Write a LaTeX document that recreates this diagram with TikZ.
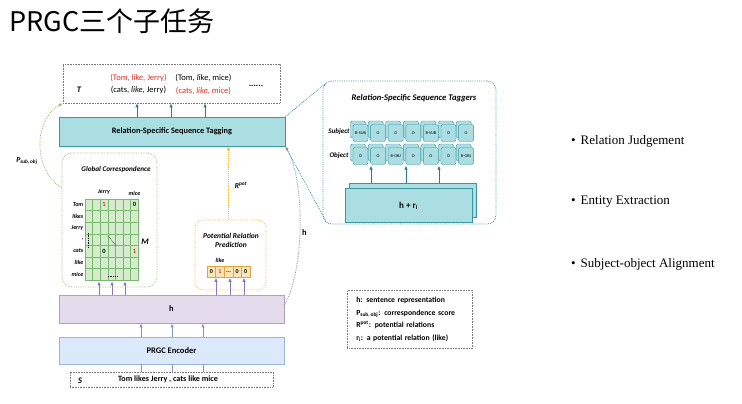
\documentclass[tikz,border=0pt]{standalone}
\usepackage{fontspec}
\setmainfont{Liberation Serif}
\newfontfamily\cjkfont{Noto Sans CJK SC}
\newfontfamily\dfont{Carlito}
\usetikzlibrary{arrows.meta,calc}
\definecolor{tealfill}{RGB}{170,222,226}
\definecolor{tealline}{RGB}{60,150,158}
\definecolor{tealarr}{RGB}{40,125,135}
\definecolor{gridfill}{RGB}{212,236,205}
\definecolor{gridln}{RGB}{120,185,110}
\definecolor{greendot}{RGB}{150,190,110}
\definecolor{orangedot}{RGB}{235,185,60}
\definecolor{vecfill}{RGB}{252,228,185}
\definecolor{vecline}{RGB}{225,165,60}
\definecolor{hfill}{RGB}{228,220,236}
\definecolor{hline}{RGB}{175,160,195}
\definecolor{purparr}{RGB}{140,120,180}
\definecolor{encfill}{RGB}{220,233,250}
\definecolor{encline}{RGB}{150,180,225}
\definecolor{bluearr}{RGB}{125,150,190}
\definecolor{redtxt}{RGB}{225,45,30}
\definecolor{dotgray}{RGB}{120,120,120}
\newcommand{\fs}[1]{\fontsize{#1}{#1}\selectfont}
\newcommand{\tdots}{..\kern-0.1pt.}
\tikzset{
  bar/.style={draw, inner sep=0, line width=0.6pt},
  dotbox/.style={draw=dotgray, densely dotted, line width=0.6pt, inner sep=0},
  tarrow/.style={draw=tealarr, line width=0.8pt, -{Latex[length=4pt,width=3.5pt]}},
  parrow/.style={draw=purparr, line width=0.8pt, -{Latex[length=4pt,width=3.5pt]}},
  barrow/.style={draw=bluearr, line width=0.8pt, -{Latex[length=4pt,width=3.5pt]}},
  card/.style={draw=tealline, fill=tealfill, rounded corners=1.5pt, minimum width=15, minimum height=17, inner sep=0, font=\dfont\fs{4.3}, line width=0.4pt},
  lbl/.style={inner sep=0, font=\dfont\fs{8.5}},
  gl/.style={draw=gridln, line width=0.4pt},
}
\begin{document}
\begin{tikzpicture}[x=1pt,y=-1pt]
\useasboundingbox (0,0) rectangle (742,404);
% title
\node[anchor=west, inner sep=0, font=\cjkfont\fs{27}] (title) at (9,21) {PRGC三个子任务};

% T box
\node[dotbox, minimum width=217, minimum height=39] (tbox) at (171.5,83.5) {};
\node[lbl, font=\dfont\itshape\bfseries\fs{8.5}] (tlab) at (79,90) {T};
\node[lbl, text=redtxt] (t1) at (138.5,78) {(Tom, \textit{like}, Jerry)};
\node[lbl] (t2) at (203.5,78) {(Tom, \textit{like}, mice)};
\node[lbl] (t3) at (138.5,90.5) {(cats, \textit{like}, Jerry)};
\node[lbl, text=redtxt] (t4) at (203.5,90.5) {(cats, \textit{like}, mice)};
\node[lbl, font=\dfont\bfseries\fs{9}] (tdotsn) at (256,86) {......};

% Tagging bar
\node[bar, draw=tealline, fill=tealfill, minimum width=226, minimum height=29, font=\dfont\bfseries\fs{8.3}] (tag) at (172,131.5) {Relation-Specific Sequence Tagging};
\foreach \dx in {-35,-1,33}
  \draw[tarrow] ([xshift=\dx pt]tag.north) -- ([xshift=\dx pt]tag.north |- tbox.south);

% Global correspondence
\node[draw=greendot, densely dotted, line width=0.7pt, rounded corners=10pt, minimum width=95, minimum height=134, inner sep=0] (glob) at (109.5,220) {};
\node[lbl, font=\dfont\bfseries\itshape\fs{7.2}] (globt) at (116,169.5) {Global Correspondence};
\node[draw=gridln, fill=gridfill, minimum width=53, minimum height=81, inner sep=0, line width=0.5pt] (grid) at (111.5,239.5) {};
\foreach \i in {1,...,6} {
  \draw[gl] ({85+\i*7.5714},199) -- ({85+\i*7.5714},280);
  \draw[gl] (85,{199+\i*11.571}) -- (138,{199+\i*11.571});
}
\foreach \w [count=\i] in {Tom,likes,Jerry,{,},cats,like,mice}
  \node[anchor=east, inner sep=0, font=\dfont\itshape\bfseries\fs{6}] at (83.5,{199+(\i-0.5)*11.571}) {\w};
\node[lbl, font=\dfont\itshape\bfseries\fs{6}] (cj) at (104,192) {Jerry};
\node[lbl, font=\dfont\itshape\bfseries\fs{6}] (cm) at (134.5,193.5) {mice};
\node[lbl, font=\dfont\bfseries\fs{6.5}, text=redtxt] (g1) at (104,204.8) {1};
\node[lbl, font=\dfont\bfseries\fs{6.5}] (g2) at (134.4,204.8) {0};
\node[lbl, font=\dfont\bfseries\fs{6.5}] (g3) at (104,251.2) {0};
\node[lbl, font=\dfont\bfseries\fs{6.5}, text=redtxt] (g4) at (134.4,251.2) {1};
\draw[densely dotted, line width=0.7pt] (88.8,233) -- (88.8,248);
\draw[densely dotted, line width=0.6pt] (108,236) -- (116,246);
\draw[densely dotted, line width=0.7pt] (108,276) -- (117,276);
\node[lbl, font=\dfont\bfseries\itshape\fs{8.5}] (mlab) at (145,242) {M};

% Potential relation prediction
\node[draw=orangedot, densely dotted, line width=0.7pt, rounded corners=8pt, minimum width=71, minimum height=70, inner sep=0] (prp) at (230.5,255) {};
\node[lbl, align=center, font=\dfont\bfseries\itshape\fs{7.5}] (prpt) at (231,240.5) {Potential Relation\\[1pt]Prediction};
\node[draw=vecline, fill=vecfill, minimum width=43, minimum height=11, inner sep=0, line width=0.5pt] (vec) at (228.5,272) {};
\foreach \i in {1,...,4}
  \draw[draw=vecline, line width=0.5pt] ({207+\i*8.6},266.5) -- ({207+\i*8.6},277.5);
\foreach \v/\c [count=\i] in {0/black,1/redtxt,\tdots/black,0/black,0/black}
  \node[lbl, font=\dfont\bfseries\fs{6}, text=\c] at ({207+(\i-0.5)*8.6},272) {\v};
\node[lbl, font=\dfont\bfseries\itshape\fs{6}] (like) at (220,260.5) {like};

% h bar
\node[bar, draw=hline, fill=hfill, minimum width=225, minimum height=28, font=\dfont\bfseries\fs{8.5}] (h) at (171.5,309) {h};
\foreach \dx in {-72.5,-59.5,-46.5}
  \draw[parrow] ([xshift=\dx pt]h.north) -- ([xshift=\dx pt,yshift=-1pt]h.north |- grid.south);
\foreach \dx in {44.5,58.5,72.5}
  \draw[parrow] ([xshift=\dx pt]h.north) -- ([xshift=\dx pt]h.north |- vec.south);

% Rpot
\draw[draw=orangedot, densely dotted, line width=0.9pt, -{Latex[length=4pt,width=3.5pt]}] ([xshift=-2pt]prp.north) -- ([xshift=-2pt]prp.north |- tag.south);
\node[lbl, font=\dfont\itshape\bfseries\fs{7.5}] (rpot) at (241,185) {R\textsuperscript{pot}};

% Encoder
\node[bar, draw=encline, fill=encfill, minimum width=225, minimum height=27, font=\dfont\bfseries\fs{8.5}] (enc) at (171.5,350.5) {PRGC Encoder};
\foreach \dx in {-30.5,0.5,31.5}
  \draw[barrow] ([xshift=\dx pt]enc.north) -- ([xshift=\dx pt]enc.north |- h.south);

% S box
\node[dotbox, minimum width=203, minimum height=15] (sbox) at (171.5,379.5) {};
\node[lbl, font=\dfont\itshape\bfseries\fs{8.5}] (slab) at (80,381) {S};
\node[lbl, font=\dfont\bfseries\fs{8.1}] (stext) at (168,379.5) {Tom likes Jerry , cats like mice};
\foreach \dx in {-30.5,0.5,31.5}
  \draw[draw=bluearr, line width=0.8pt] ([xshift=\dx pt]sbox.north) -- ([xshift=\dx pt]sbox.north |- enc.south);

% left curve P_sub,obj
\draw[draw=greendot, densely dotted, line width=0.8pt, -{Latex[length=4pt,width=3.5pt]}] ([yshift=32pt]glob.west) .. controls (33,170) and (33,120) .. (tbox.south west);
\node[lbl, font=\dfont\itshape\bfseries\fs{7.5}] (psub) at (27,161) {P\textsubscript{sub,\,obj}};

% right curve h
\draw[draw=dotgray!80, densely dotted, line width=0.8pt, -{Latex[length=4pt,width=3.5pt,fill=purparr]}] ([yshift=4pt]h.east) .. controls (305,270) and (305,180) .. (tag.south east);
\node[lbl, font=\dfont\bfseries\fs{8.5}] (hlab) at (304.5,233) {h};

% Tagger box
\node[draw=tealline, densely dotted, line width=0.8pt, rounded corners=9pt, minimum width=173, minimum height=143, inner sep=0] (tagger) at (409.5,152.5) {};
\draw[draw=tealline, densely dotted, line width=0.8pt] (tag.north east) -- ([xshift=4pt,yshift=-2pt]tagger.north west);
\draw[draw=tealline, densely dotted, line width=0.8pt] (tag.south east) -- ([xshift=4pt,yshift=2pt]tagger.south west);
\node[lbl, font=\dfont\bfseries\itshape\fs{8.6}] (taggert) at (414,98) {Relation-Specific Sequence Taggers};
\node[lbl, font=\dfont\bfseries\itshape\fs{7}] (subj) at (339,132) {Subject};
\node[lbl, font=\dfont\bfseries\itshape\fs{7}] (objl) at (339,156) {Object};
\foreach \s/\o [count=\i] in {B-SUB/O,O/O,O/B-OBJ,O/O,B-SUB/O,O/O,O/B-OBJ} {
  \node[card] (subb\i) at ({360.5+(\i-1)*17.6-2.5},{133-3.5}) {};
  \node[card] (sub\i) at ({360.5+(\i-1)*17.6},133) {\s};
  \node[card] (objb\i) at ({360.5+(\i-1)*17.6-2.5},{156-3.5}) {};
  \node[card] (obj\i) at ({360.5+(\i-1)*17.6},156) {\o};
}
\node[bar, draw=tealline, fill=tealfill, minimum width=127, minimum height=34] (hrb) at (412.5,200.5) {};
\node[bar, draw=tealline, fill=tealfill, minimum width=127, minimum height=34, font=\dfont\bfseries\fs{9}] (hr) at (408.5,205.5) {h + r\textsubscript{i}};
\foreach \dx in {-41.5,-6.5,26.5}
  \draw[tarrow] ([xshift=\dx pt]hrb.north) -- ([xshift=\dx pt,yshift=-1pt]hrb.north |- obj1.south);

% legend
\node[dotbox, anchor=north west, minimum width=125pt, minimum height=58pt, inner xsep=9pt, text width=107pt, align=left, font=\dfont\bfseries\fontsize{7.7}{12.8}\selectfont] (leg) at (347,290) {h: sentence representation\\P\textsubscript{sub,\,obj}: correspondence score\\R\textsuperscript{pot}: potential relations\\r\textsubscript{i}: a potential relation (like)};

% bullets
\foreach \t/\y [count=\i] in {Relation Judgement/141,Entity Extraction/202,Subject-object Alignment/264}
  \node[anchor=west, inner sep=0, font=\rmfamily\fs{13}] (bul\i) at (571,\y) {\textbullet\hspace{5pt}\t};
\end{tikzpicture}
\end{document}
